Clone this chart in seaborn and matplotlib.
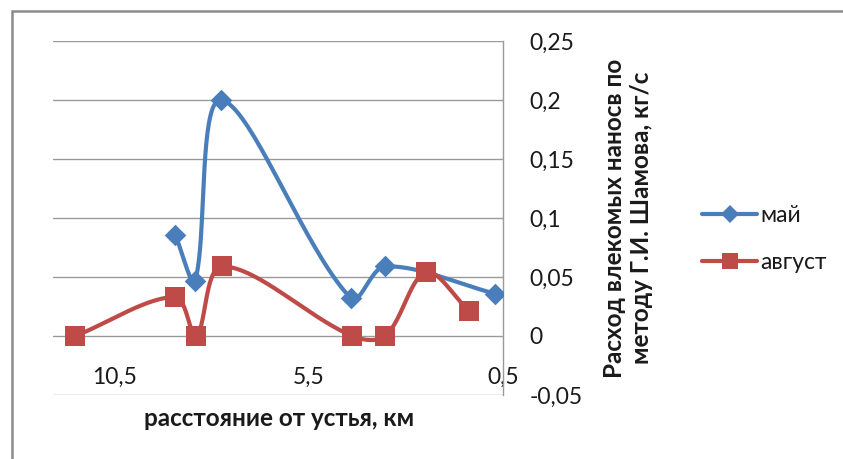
import numpy as np
import pandas as pd
import matplotlib
matplotlib.use("Agg")
import matplotlib.pyplot as plt
import seaborn as sns
from matplotlib.lines import Line2D
from matplotlib.patches import Rectangle
from matplotlib.ticker import FixedLocator, FuncFormatter

# ---- data ----
may_x = [8.93, 8.42, 7.75, 4.41, 3.53, 0.71]
may_y = [0.086, 0.047, 0.200, 0.032, 0.059, 0.036]
aug_x = [11.5, 8.93, 8.39, 7.72, 4.38, 3.53, 2.48, 1.37]
aug_y = [0.0, 0.033, 0.0, 0.059, 0.0, 0.0, 0.054, 0.021]
series_names = ["май", "август"]
x_ticks = [10.5, 5.5, 0.5]
y_ticks = [-0.05, 0, 0.05, 0.1, 0.15, 0.2, 0.25]
x_label = "расстояние от устья, км"
y_label = "Расход влекомых наносв по\nметоду Г.И. Шамова, кг/с"

BLUE = "#4a7ebb"
RED = "#be4b48"
GRID = "#9a9a9a"

sns.set_style("white")
plt.rcParams["font.family"] = ["Lato", "DejaVu Sans"]
plt.rcParams["axes.unicode_minus"] = False

fig = plt.figure(figsize=(8.43, 4.59), dpi=100)
W, H = 843, 459
ax = fig.add_axes([53 / W, 1 - 395 / H, (503 - 53) / W, (395 - 41) / H])
ax.set_xlim(12.07, 0.5)
ax.set_ylim(-0.05, 0.25)


def smooth(xs, ys, n=40):
    """Excel-like smoothed line: cubic Bezier with length-weighted tangents."""
    pts = ax.transData.transform(np.column_stack([xs, ys]))
    out = []
    for i in range(len(pts) - 1):
        p0 = pts[i - 1] if i > 0 else pts[i]
        p1 = pts[i]
        p2 = pts[i + 1]
        p3 = pts[i + 2] if i + 2 < len(pts) else pts[i + 1]
        d01 = np.hypot(*(p1 - p0))
        d12 = np.hypot(*(p2 - p1))
        d23 = np.hypot(*(p3 - p2))
        f1 = d12 / (d01 + d12) if d01 + d12 > 0 else 0.5
        f2 = d12 / (d12 + d23) if d12 + d23 > 0 else 0.5
        c1 = p1 + (p2 - p0) * f1 / 3.0
        c2 = p2 - (p3 - p1) * f2 / 3.0
        t = np.linspace(0, 1, n)[:, None]
        seg = (1 - t) ** 3 * p1 + 3 * (1 - t) ** 2 * t * c1 + 3 * (1 - t) * t ** 2 * c2 + t ** 3 * p2
        out.append(seg if i == 0 else seg[1:])
    out = np.vstack(out)
    d = ax.transData.inverted().transform(out)
    return d[:, 0], d[:, 1]


# grid
for v in y_ticks:
    ax.axhline(v, color=GRID, lw=1.0, zorder=0)

for xs, ys, col, mk, ms in [(may_x, may_y, BLUE, "D", 11), (aug_x, aug_y, RED, "s", 14)]:
    sx, sy = smooth(xs, ys)
    curve = pd.DataFrame({"x": sx, "y": sy})
    sns.lineplot(data=curve, x="x", y="y", sort=False, estimator=None, ax=ax,
                 color=col, lw=3.0, zorder=3)
    pts = pd.DataFrame({"x": xs, "y": ys})
    sns.scatterplot(data=pts, x="x", y="y", ax=ax, color=col, marker=mk,
                    s=ms ** 2, linewidth=0, zorder=4)

ax.set_xlim(12.07, 0.5)
ax.set_ylim(-0.05, 0.25)

# spines
for s in ["top", "left"]:
    ax.spines[s].set_visible(False)
ax.spines["bottom"].set_position(("data", 0))
ax.spines["bottom"].set_visible(False)
ax.spines["right"].set_color(GRID)
ax.spines["right"].set_linewidth(1.0)

fmt = FuncFormatter(lambda v, p: f"{v:g}".replace(".", ","))
ax.xaxis.set_major_locator(FixedLocator(x_ticks))
ax.xaxis.set_major_formatter(fmt)
ax.yaxis.set_major_locator(FixedLocator(y_ticks))
ax.yaxis.set_major_formatter(fmt)
ax.yaxis.tick_right()
ax.tick_params(axis="x", length=0, pad=22, labelsize=16.5, colors="#1a1a1a")
ax.tick_params(axis="y", length=0, pad=19, labelsize=16.5, colors="#1a1a1a")
for lab in ax.get_yticklabels():
    lab.set_horizontalalignment("left")

ax.set_xlabel("")
ax.set_ylabel("")
fig.text(279 / W, 1 - 418 / H, x_label, ha="center", va="center",
         fontsize=17.5, fontweight="bold", color="#1a1a1a")
fig.text(628 / W, 1 - 218 / H, y_label, ha="center", va="center", rotation=90,
         fontsize=17.5, fontweight="bold", color="#1a1a1a", linespacing=1.2,
         multialignment="center")

handles = [
    Line2D([], [], color=BLUE, lw=3.0, marker="D", markersize=9, markeredgewidth=0),
    Line2D([], [], color=RED, lw=3.0, marker="s", markersize=12, markeredgewidth=0),
]
fig.legend(handles, series_names, loc="center left",
           bbox_to_anchor=(702 / W, 1 - 239 / H), frameon=False,
           borderpad=0, borderaxespad=0,
           fontsize=16.5, handlelength=2.4, handletextpad=0.13, labelspacing=1.1,
           labelcolor="#1a1a1a")

# chart border
fig.add_artist(Rectangle((11.5 / W, -0.1), 1.2, 1 - 11.5 / H + 0.1,
                         transform=fig.transFigure, fill=False,
                         edgecolor="#8c8c8c", lw=1.8))

fig.savefig("out.png", dpi=100)
